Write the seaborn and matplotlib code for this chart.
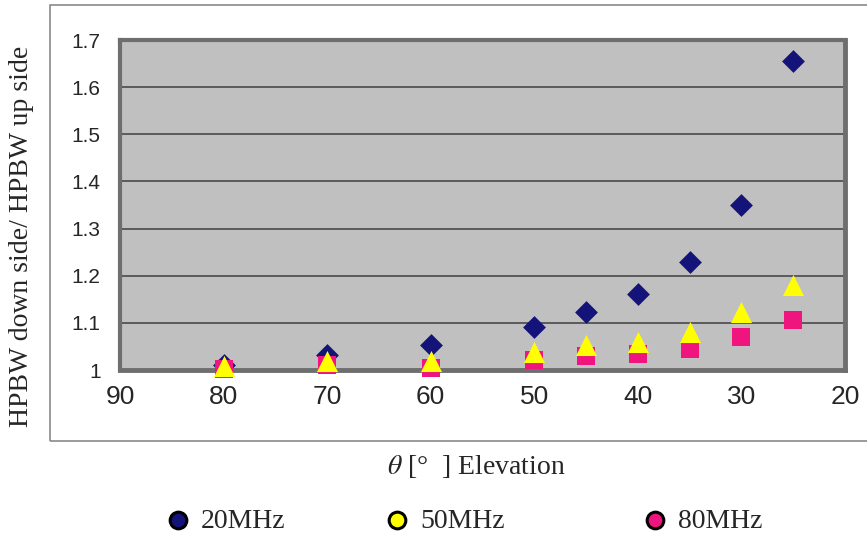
import matplotlib
matplotlib.use("Agg")
import matplotlib.pyplot as plt
from matplotlib.patches import Rectangle
from matplotlib.lines import Line2D
import seaborn as sns
import pandas as pd

# Elevation angles (degrees) and beam-width ratios per frequency
elevation = [80, 70, 60, 50, 45, 40, 35, 30, 25]
ratio_20mhz = [1.01, 1.032, 1.053, 1.092, 1.122, 1.161, 1.230, 1.350, 1.655]
ratio_50mhz = [1.008, 1.019, 1.02, 1.039, 1.052, 1.06, 1.081, 1.122, 1.181]
ratio_80mhz = [1.003, 1.01, 1.005, 1.022, 1.029, 1.035, 1.045, 1.070, 1.107]

series_names = ["20MHz", "50MHz", "80MHz"]
x_ticks = [90, 80, 70, 60, 50, 40, 30, 20]
y_ticks = [1, 1.1, 1.2, 1.3, 1.4, 1.5, 1.6, 1.7]
y_tick_labels = ["1", "1.1", "1.2", "1.3", "1.4", "1.5", "1.6", "1.7"]

colors = {"20MHz": "#14137a", "50MHz": "#ffff00", "80MHz": "#f0147f"}
markers = {"20MHz": "D", "50MHz": "^", "80MHz": "s"}
sizes = {"20MHz": 135, "50MHz": 230, "80MHz": 150}
draw_order = ["20MHz", "80MHz", "50MHz"]

df = pd.concat([
    pd.DataFrame({"elev": elevation, "ratio": vals, "freq": name})
    for name, vals in zip(series_names, [ratio_20mhz, ratio_50mhz, ratio_80mhz])
])

sns.set_style("white")
plt.rcParams["font.family"] = ["Liberation Sans", "DejaVu Sans"]
plt.rcParams["mathtext.fontset"] = "stix"

fig = plt.figure(figsize=(8.67, 5.36), dpi=100)

# chart-area frame
fig.add_artist(Rectangle((50 / 867, 1 - 441 / 536), 1.2, (441 - 5) / 536,
                         transform=fig.transFigure, fill=False,
                         edgecolor="#8a8a8a", linewidth=1.2))

ax = fig.add_axes([120 / 867, 1 - 370 / 536, (845 - 120) / 867, (370 - 40) / 536])
ax.set_facecolor("#c0c0c0")

for name in draw_order:
    sub = df[df["freq"] == name]
    sns.scatterplot(data=sub, x="elev", y="ratio", ax=ax, color=colors[name],
                    marker=markers[name], s=sizes[name], linewidth=0,
                    zorder=3, clip_on=False, legend=False)

ax.set_xlim(90, 20)
ax.set_ylim(1, 1.7)
ax.set_xticks(x_ticks)
ax.set_xticklabels([str(t) for t in x_ticks], fontsize=19)
ax.set_yticks(y_ticks)
ax.set_yticklabels(y_tick_labels, fontsize=15)
ax.tick_params(axis="x", direction="in", length=6, width=1, color="#555555", pad=11)
ax.tick_params(axis="y", length=0, pad=14)
ax.yaxis.grid(True, color="#4a4a4a", linewidth=1.2)
ax.set_axisbelow(True)
for side, sp in ax.spines.items():
    sp.set_visible(True)
    sp.set_color("#6e6e6e")
    sp.set_linewidth(3.5 if side in ("bottom", "right") else 3)
ax.set_xlabel("")
ax.set_ylabel("")

fig.text(22 / 867, 1 - 236 / 536, "HPBW down side/ HPBW up side",
         rotation=90, ha="center", va="center",
         fontsize=20, family="Liberation Serif")
fig.text(476 / 867, 1 - 467 / 536, r"$\theta$ [°  ] Elevation",
         ha="center", va="center", fontsize=20, family="Liberation Serif")

# legend entries
legend_x = [178, 397, 655]
for name, lx in zip(series_names, legend_x):
    fig.add_artist(Line2D([lx / 867], [1 - 520 / 536], transform=fig.transFigure,
                          marker="o", markersize=12, markerfacecolor=colors[name],
                          markeredgecolor="black", markeredgewidth=2.2, linestyle=""))
    fig.text((lx + 23) / 867, 1 - 521 / 536, name, ha="left", va="center",
             fontsize=20, family="Liberation Serif")

fig.savefig("out.png", dpi=100, facecolor="white")
